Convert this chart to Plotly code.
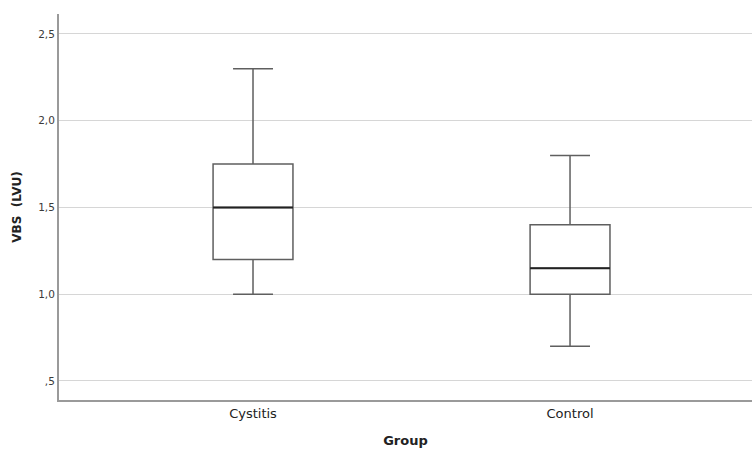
import plotly.graph_objects as go

categories = ["Cystitis", "Control"]
lower_whisker = [1.0, 0.7]
q1 = [1.2, 1.0]
median = [1.5, 1.15]
q3 = [1.75, 1.4]
upper_whisker = [2.3, 1.8]
ytick_vals = [0.5, 1.0, 1.5, 2.0, 2.5]
ytick_text = [",5", "1,0", "1,5", "2,0", "2,5"]

xpos = list(range(len(categories)))
box_w = 0.252
line_col = "#5f5f5f"

fig = go.Figure()
fig.add_trace(go.Box(
    x=xpos, q1=q1, median=median, q3=q3,
    lowerfence=lower_whisker, upperfence=upper_whisker,
    width=box_w, whiskerwidth=0.5,
    fillcolor="white", line=dict(color=line_col, width=1.5),
    boxpoints=False, hoverinfo="skip", showlegend=False,
))
# darker median lines
for i, m in zip(xpos, median):
    fig.add_trace(go.Scatter(
        x=[i - box_w / 2, i + box_w / 2], y=[m, m], mode="lines",
        line=dict(color="#222222", width=2), showlegend=False, hoverinfo="skip",
    ))

fig.update_layout(
    width=752, height=452,
    margin=dict(l=59, r=0, t=14, b=52),
    paper_bgcolor="white", plot_bgcolor="white",
    font=dict(family="DejaVu Sans", color="#333333", size=11),
)
fig.update_xaxes(
    range=[-0.612, 1.574], tickvals=xpos, ticktext=categories,
    showgrid=False, zeroline=False,
    showline=True, linecolor="#9a9a9a", linewidth=2,
    ticks="", tickfont=dict(size=13, color="#222222"),
    title=dict(text="<b>Group</b>", font=dict(size=13, color="#222222"), standoff=16),
)
fig.update_yaxes(
    range=[0.39, 2.615], tickvals=ytick_vals, ticktext=ytick_text,
    showgrid=True, gridcolor="#d6d6d6", gridwidth=1, zeroline=False,
    showline=True, linecolor="#9a9a9a", linewidth=2,
    ticks="", tickfont=dict(size=10.5, color="#3a3a3a"),
    title=dict(text="<b>VBS  (LVU)</b>", font=dict(size=12, color="#222222"), standoff=14),
)

fig.write_html("out.html", config={"displayModeBar": False})

# remove default page margin so the figure fills the window exactly
with open("out.html", "r", encoding="utf-8") as f:
    html = f.read()
html = html.replace("<head>", "<head><style>html,body{margin:0;padding:0;overflow:hidden;}</style>", 1)
with open("out.html", "w", encoding="utf-8") as f:
    f.write(html)
